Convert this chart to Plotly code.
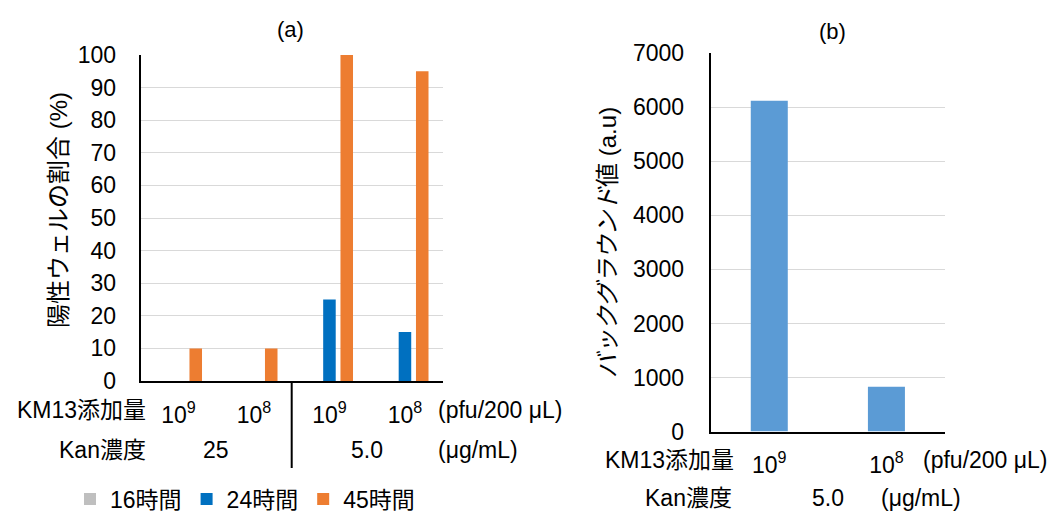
import plotly.graph_objects as go

W, H = 1055, 513
FONT = "Liberation Sans, Arial, Noto Sans CJK JP, sans-serif"

# ---- panel (a): positive-well ratio by KM13 dose / Kan concentration ----
cats_a = [0, 1, 2, 3]
dose_ticks_a = ["10<sup>9</sup>", "10<sup>8</sup>", "10<sup>9</sup>", "10<sup>8</sup>"]
kan_labels_a = ["25", "5.0"]
kan_pos_a = [0.5, 2.5]
h16 = [0, 0, 0, 0]
h24 = [0, 0, 25, 15]
h45 = [10, 10, 100, 95]
series_names = ["16時間", "24時間", "45時間"]
series_colors = ["#BFBFBF", "#0070C0", "#ED7D31"]

# ---- panel (b): background value ----
cats_b = [0, 1]
dose_ticks_b = ["10<sup>9</sup>", "10<sup>8</sup>"]
kan_labels_b = ["5.0"]
kan_pos_b = [0.5]
bg_values = [6120, 830]
bg_color = "#5B9BD5"


def px_x(p):
    return p / W


def px_y(p):
    return (H - p) / H


fig = go.Figure()

bar_w = 0.166
slot = 0.229
for k, (name, vals, col) in enumerate(zip(series_names, [h16, h24, h45], series_colors)):
    fig.add_trace(go.Bar(
        x=cats_a, y=vals, name=name, marker=dict(color=col, line=dict(width=0)),
        width=bar_w, offset=(k - 1) * slot - bar_w / 2,
        xaxis="x", yaxis="y", hoverinfo="skip",
    ))

fig.add_trace(go.Bar(
    x=cats_b, y=bg_values, marker=dict(color=bg_color, line=dict(width=0)),
    width=0.316, xaxis="x2", yaxis="y2", showlegend=False, hoverinfo="skip",
))

axis_font = dict(family=FONT, size=23, color="#000000")

fig.update_layout(
    width=W, height=H, autosize=False,
    margin=dict(l=0, r=0, t=0, b=0, autoexpand=False),
    paper_bgcolor="white", plot_bgcolor="white",
    barmode="overlay",
    font=dict(family=FONT, size=23, color="#000000"),
    xaxis=dict(
        domain=[px_x(140.7), px_x(442.7)], anchor="y", range=[-0.5, 3.5],
        tickvals=cats_a, ticktext=dose_ticks_a, tickfont=axis_font,
        showgrid=False, zeroline=False, ticks="", ticklabelstandoff=12,
        showline=True, linecolor="#000000", linewidth=2, automargin=False,
    ),
    yaxis=dict(
        domain=[px_y(381), px_y(55)], anchor="x", range=[0, 100], dtick=10,
        tickfont=axis_font, showgrid=True, gridcolor="#D9D9D9", gridwidth=1,
        zeroline=False, ticks="", ticklabelstandoff=18,
        showline=True, linecolor="#000000", linewidth=2, automargin=False,
    ),
    xaxis2=dict(
        domain=[px_x(710.7), px_x(945)], anchor="y2", range=[-0.5, 1.5],
        tickvals=cats_b, ticktext=dose_ticks_b, tickfont=axis_font,
        showgrid=False, zeroline=False, ticks="", ticklabelstandoff=12,
        showline=True, linecolor="#000000", linewidth=2, automargin=False,
    ),
    yaxis2=dict(
        domain=[px_y(431.5), px_y(53.3)], anchor="x2", range=[0, 7000], dtick=1000,
        tickfont=axis_font, showgrid=True, gridcolor="#D9D9D9", gridwidth=1,
        zeroline=False, ticks="", ticklabelstandoff=20,
        showline=True, linecolor="#000000", linewidth=2, automargin=False,
        title=dict(text="<i>バックグラウンド</i>値 (a.u)", font=dict(family=FONT, size=24), standoff=10),
    ),
    legend=dict(
        orientation="h", x=px_x(70), y=px_y(499), xanchor="left", yanchor="middle",
        font=dict(family=FONT, size=23), bgcolor="rgba(0,0,0,0)",
        itemwidth=30, traceorder="normal",
    ),
)

ann = []
# panel titles
ann.append(dict(text="(a)", x=px_x(290), y=px_y(29), xref="paper", yref="paper",
                xanchor="center", yanchor="middle", showarrow=False, font=dict(size=22)))
ann.append(dict(text="(b)", x=px_x(832), y=px_y(31), xref="paper", yref="paper",
                xanchor="center", yanchor="middle", showarrow=False, font=dict(size=22)))

# y-axis title of panel (a)
ann.append(dict(text="陽性ウェルの割合 (%)", x=px_x(58), y=px_y(210), xref="paper", yref="paper",
                xanchor="center", yanchor="middle", textangle=-90, showarrow=False,
                font=dict(size=24)))

# row headers and units, panel (a)
ann.append(dict(text="KM13添加量", x=px_x(148), y=px_y(410), xref="paper", yref="paper",
                xanchor="right", yanchor="middle", showarrow=False))
ann.append(dict(text="Kan濃度", x=px_x(148), y=px_y(450), xref="paper", yref="paper",
                xanchor="right", yanchor="middle", showarrow=False))
ann.append(dict(text="(pfu/200 μL)", x=px_x(436), y=px_y(410), xref="paper", yref="paper",
                xanchor="left", yanchor="middle", showarrow=False))
ann.append(dict(text="(μg/mL)", x=px_x(436), y=px_y(450), xref="paper", yref="paper",
                xanchor="left", yanchor="middle", showarrow=False))
for pos, lab in zip(kan_pos_a, kan_labels_a):
    ann.append(dict(text=lab, x=pos, y=px_y(450), xref="x", yref="paper",
                    xanchor="center", yanchor="middle", showarrow=False))

# row headers and units, panel (b)
ann.append(dict(text="KM13添加量", x=px_x(736), y=px_y(460), xref="paper", yref="paper",
                xanchor="right", yanchor="middle", showarrow=False))
ann.append(dict(text="Kan濃度", x=px_x(734), y=px_y(498), xref="paper", yref="paper",
                xanchor="right", yanchor="middle", showarrow=False))
ann.append(dict(text="(pfu/200 μL)", x=px_x(921), y=px_y(460), xref="paper", yref="paper",
                xanchor="left", yanchor="middle", showarrow=False))
ann.append(dict(text="(μg/mL)", x=px_x(879), y=px_y(498), xref="paper", yref="paper",
                xanchor="left", yanchor="middle", showarrow=False))
for pos, lab in zip(kan_pos_b, kan_labels_b):
    ann.append(dict(text=lab, x=pos, y=px_y(498), xref="x2", yref="paper",
                    xanchor="center", yanchor="middle", showarrow=False))

fig.update_layout(annotations=ann)

# divider between the two Kan concentration groups in panel (a)
fig.add_shape(type="line", xref="x", yref="paper", x0=1.5, x1=1.5,
              y0=px_y(468), y1=px_y(381), line=dict(color="#000000", width=2))

fig.write_html("out.html")
